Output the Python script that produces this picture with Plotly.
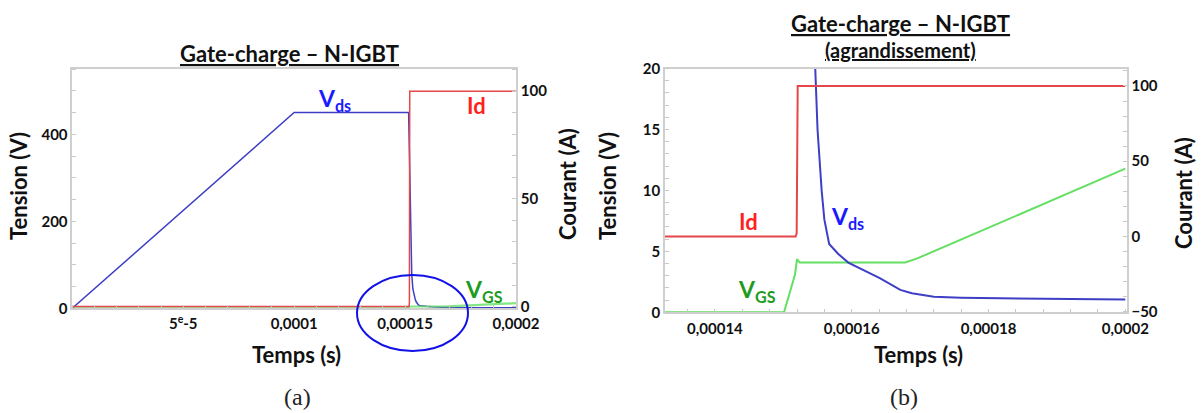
import plotly.graph_objects as go

# ---------------- data ----------------
vds_time = [0, 0.0001, 0.0001516, 0.000152, 0.0001525, 0.000153, 0.0001535, 0.000154,
            0.0001546, 0.000155, 0.0001556, 0.000156, 0.0001567, 0.000158, 0.0001595,
            0.000162, 0.0001641, 0.0001671, 0.0001688, 0.000172, 0.000176, 0.0001817,
            0.0001934, 0.0002]
vds_volt = [0, 450, 450, 315, 150, 80, 45, 30,
            20, 15, 10, 7.6, 5.6, 4.8, 4.08,
            3.4, 2.8, 1.84, 1.56, 1.28, 1.2, 1.15,
            1.07, 1.05]

vgs_time = [0, 0.0001501, 0.0001517, 0.000152, 0.0001524, 0.0001678, 0.0001695, 0.000172, 0.0002]
vgs_volt = [0, 0, 3.07, 4.36, 4.08, 4.08, 4.4, 5.0, 11.78]

id_time = [0, 0.0001518, 0.00015195, 0.0001521, 0.0002]
id_amp = [0, 0, 2, 100, 100]

# tick values / labels
a_xticks = [0.00005, 0.0001, 0.00015, 0.0002]
a_xlabels = ["5<sup>e</sup>-5", "0,0001", "0,00015", "0,0002"]
a_yticks = [0, 200, 400]
a_y2ticks = [0, 50, 100]
b_xticks = [0.00014, 0.00016, 0.00018, 0.0002]
b_xlabels = ["0,00014", "0,00016", "0,00018", "0,0002"]
b_yticks = [0, 5, 10, 15, 20]
b_y2ticks = [-50, 0, 50, 100]

# ---------------- styling ----------------
W, H = 1203, 413
FONT = "Lato"
C_VDS = "#3f3fc6"
C_ID = "#e4464a"
C_VGS = "#63e063"
AX_LINE = "#cfcfcf"


def px(x):
    return x / W


def py(y):
    return 1 - y / H


fig = go.Figure()

# panel (a)
fig.add_trace(go.Scatter(x=id_time, y=id_amp, mode="lines", line=dict(color=C_ID, width=1.5),
                         xaxis="x", yaxis="y2", showlegend=False))
fig.add_trace(go.Scatter(x=vds_time, y=vds_volt, mode="lines", line=dict(color=C_VDS, width=1.5),
                         xaxis="x", yaxis="y", showlegend=False))
fig.add_trace(go.Scatter(x=vgs_time, y=vgs_volt, mode="lines", line=dict(color=C_VGS, width=2.2),
                         xaxis="x", yaxis="y", showlegend=False, opacity=0.8))
# panel (b)
fig.add_trace(go.Scatter(x=id_time, y=id_amp, mode="lines", line=dict(color=C_ID, width=2),
                         xaxis="x2", yaxis="y4", showlegend=False))
fig.add_trace(go.Scatter(x=vgs_time, y=vgs_volt, mode="lines", line=dict(color=C_VGS, width=2),
                         xaxis="x2", yaxis="y3", showlegend=False))
fig.add_trace(go.Scatter(x=vds_time, y=vds_volt, mode="lines", line=dict(color=C_VDS, width=2),
                         xaxis="x2", yaxis="y3", showlegend=False))

tickfont = dict(family=FONT, size=15, color="#111111", weight="bold")
minor = dict(ticks="inside", ticklen=4, tickcolor="#c8c8c8", showgrid=False)
common = dict(showgrid=False, zeroline=False, showline=True, linecolor=AX_LINE, linewidth=1.5,
              ticks="", tickfont=tickfont, automargin=False)

dom_a_x = [px(72.3), px(516.0)]
dom_a_y = [py(308.3), py(69.0)]
dom_b_x = [px(665.0), px(1126.7)]
dom_b_y = [py(312.3), py(68.5)]

fig.update_layout(
    width=W, height=H,
    margin=dict(l=0, r=0, t=0, b=0, autoexpand=False),
    paper_bgcolor="white", plot_bgcolor="white",
    separators=", ",
    xaxis=dict(domain=dom_a_x, anchor="y", range=[0, 0.0002], tickvals=a_xticks, ticktext=a_xlabels,
               mirror=True, ticklabelstandoff=1, minor=dict(dtick=0.00001, **minor), **common),
    yaxis=dict(domain=dom_a_y, anchor="x", range=[0, 550], tickvals=a_yticks,
               minor=dict(dtick=50, **minor), **common),
    yaxis2=dict(overlaying="y", anchor="x", side="right", range=[-0.8, 110.3], tickvals=a_y2ticks,
                minor=dict(dtick=10, **minor), **common),
    xaxis2=dict(domain=dom_b_x, anchor="y3", range=[0.0001327, 0.0002002], tickvals=b_xticks,
                ticktext=b_xlabels, mirror=True, ticklabelstandoff=2,
                minor=dict(dtick=0.000004, tick0=0.00014, **minor), **common),
    yaxis3=dict(domain=dom_b_y, anchor="x2", range=[0, 20], tickvals=b_yticks,
                minor=dict(dtick=1, **minor), **common),
    yaxis4=dict(overlaying="y3", anchor="x2", side="right", range=[-50.4, 111.6], tickvals=b_y2ticks,
                minor=dict(dtick=10, **minor), **common),
)

ann = []


def add_text(x, y, text, size=19, color="#111111", angle=0, family=FONT, bold=True):
    ann.append(dict(x=px(x), y=py(y), xref="paper", yref="paper", text=text, showarrow=False,
                    textangle=angle, xanchor="center", yanchor="middle",
                    font=dict(family=family, size=size, color=color,
                              weight="bold" if bold else "normal")))


# titles
add_text(289, 53, "<u>Gate-charge – N-IGBT</u>", size=22)
add_text(900, 23, "<u>Gate-charge – N-IGBT</u>", size=22)
add_text(900, 50, "<u>(agrandissement)</u>", size=20)
# axis titles
add_text(18, 186, "Tension (V)", size=22, angle=-90)
add_text(567, 184, "Courant (A)", size=22, angle=-90)
add_text(296, 354, "Temps (s)", size=22)
add_text(607, 186, "Tension (V)", size=22, angle=-90)
add_text(1183, 193, "Courant (A)", size=22, angle=-90)
add_text(918, 354, "Temps (s)", size=22)
# panel labels
add_text(297, 397, "(a)", size=24, color="#222222", family="Liberation Serif", bold=False)
add_text(904, 397, "(b)", size=24, color="#222222", family="Liberation Serif", bold=False)
# curve labels
add_text(334, 100, "V<sub>ds</sub>", size=23, color="#1a1aff")
add_text(476, 105, "Id", size=22, color="#ff1f1f")
add_text(484, 290, "V<sub>GS</sub>", size=23, color="#1e9b1e")
add_text(748, 222, "Id", size=22, color="#ff1f1f")
add_text(847, 218, "V<sub>ds</sub>", size=23, color="#1a1aff")
add_text(757, 290, "V<sub>GS</sub>", size=23, color="#1e9b1e")

fig.update_layout(annotations=ann)

# highlight ellipse in panel (a)
fig.add_shape(type="circle", xref="paper", yref="paper",
              x0=px(357), x1=px(468), y0=py(351), y1=py(275),
              line=dict(color="#1212e6", width=2), fillcolor="rgba(0,0,0,0)")

fig.write_html("out.html", config={"displayModeBar": False},
               post_script="document.body.style.margin='0';document.body.style.overflow='hidden';")
